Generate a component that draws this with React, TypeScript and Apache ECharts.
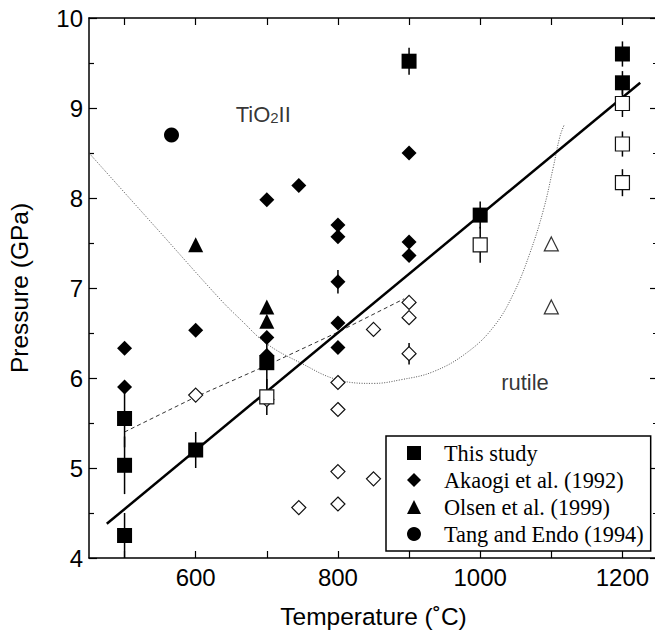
import React, { useEffect, useRef } from 'react';
import * as echarts from 'echarts';

// ---- axis ticks / labels ----
const xTickValues = [500, 600, 700, 800, 900, 1000, 1100, 1200];
const xLabelValues = [600, 800, 1000, 1200];

// ---- This study: [T, P, error] ----
const thisStudyTiO2II = [
  [500, 5.55, 0.32], [500, 5.03, 0.32], [500, 4.25, 0.25], [600, 5.2, 0.2],
  [700, 6.17, 0.3], [900, 9.52, 0.15], [1000, 7.81, 0.15], [1200, 9.6, 0.14], [1200, 9.28, 0.13],
];
const thisStudyRutile = [
  [700, 5.79, 0.2], [1000, 7.48, 0.2], [1200, 9.05, 0.15], [1200, 8.6, 0.14], [1200, 8.17, 0.15],
];

// ---- Akaogi et al. (1992) ----
const akaogiTiO2II = [
  [500, 6.33], [500, 5.9], [600, 6.53], [700, 7.98], [700, 6.45], [700, 6.25], [745, 8.14],
  [800, 7.7], [800, 7.57], [800, 7.07], [800, 6.61], [800, 6.34], [900, 8.5], [900, 7.51], [900, 7.36],
];
const akaogiRutile = [
  [600, 5.81], [700, 5.76], [745, 4.56], [800, 5.95], [800, 5.65], [800, 4.96], [800, 4.6],
  [850, 6.54], [850, 4.88], [900, 6.84], [900, 6.67], [900, 6.27],
];
const akaogiErrors = [[800, 7.07, 0.13], [900, 6.27, 0.12]];

// ---- Olsen et al. (1999) ----
const olsenTiO2II = [[600, 7.48], [700, 6.79], [700, 6.63]];
const olsenRutile = [[1100, 7.49], [1100, 6.79]];

// ---- Tang and Endo (1994) ----
const tangEndo = [[566, 8.7]];

// ---- lines ----
const fitLine = [[475, 4.38], [1225, 9.28]];
const dashedLine = [[500, 5.4], [600, 5.79], [700, 6.14], [800, 6.51], [893, 6.88]];
const dottedCurve = [
  [450, 8.5], [551, 7.61], [635, 6.87], [663, 6.65], [700, 6.38], [747, 6.17], [800, 5.98],
  [850, 5.94], [888, 5.98], [934, 6.07], [981, 6.28], [1019, 6.57], [1047, 6.94], [1070, 7.39],
  [1089, 7.87], [1103, 8.35], [1112, 8.68], [1118, 8.81],
];

// ---- annotations ----
const phaseLabels = [
  { name: 'TiO2II', value: [695, 8.93] },
  { name: 'rutile', value: [1063, 5.95] },
];

const SANS = '"Liberation Sans", Arial, Helvetica, sans-serif';
const SERIF = '"Liberation Serif", "Times New Roman", serif';

export default function App() {
  const ref = useRef<HTMLDivElement>(null);

  useEffect(() => {
    if (!ref.current) return;
    const chart = echarts.init(ref.current, undefined, { renderer: 'svg' });

    const xAxisBase = {
      type: 'value',
      min: 450,
      max: 1250,
      splitLine: { show: false },
      axisLine: { show: true, onZero: false, lineStyle: { color: '#000', width: 1.5 } },
      axisTick: { show: true, inside: true, length: 7, customValues: xTickValues, lineStyle: { color: '#000', width: 1.2 } },
    };
    const yAxisBase = {
      type: 'value',
      min: 4,
      max: 10,
      interval: 1,
      splitLine: { show: false },
      axisLine: { show: true, onZero: false, lineStyle: { color: '#000', width: 1.5 } },
      axisTick: { show: true, inside: true, length: 8, lineStyle: { color: '#000', width: 1.2 } },
      minorTick: { show: true, splitNumber: 2, length: 5, lineStyle: { color: '#000', width: 1.2 } },
      minorSplitLine: { show: false },
    };

    const errorBarSeries = (name: string, data: number[][]) => ({
      type: 'custom',
      name,
      data,
      encode: { x: 0, y: 1 },
      z: 3,
      silent: true,
      renderItem: (params: any, api: any) => {
        const x = api.value(0);
        const y = api.value(1);
        const e = api.value(2);
        const p1 = api.coord([x, y + e]);
        const p2 = api.coord([x, y - e]);
        return {
          type: 'line',
          shape: { x1: p1[0], y1: p1[1], x2: p2[0], y2: p2[1] },
          style: { stroke: '#000', lineWidth: 1.5 },
        };
      },
    });

    const filled = { color: '#000', opacity: 1 };
    const open = { color: '#fff', borderColor: '#111', borderWidth: 1.2, opacity: 1 };

    const option: any = {
      animation: false,
      grid: { left: 89, top: 18, right: -3, bottom: 77, containLabel: false, outerBoundsMode: 'none' },
      xAxis: [
        {
          ...xAxisBase,
          position: 'bottom',
          name: 'Temperature (˚C)',
          nameLocation: 'middle',
          nameGap: 46,
          nameTextStyle: { fontFamily: SANS, fontSize: 24.5, color: '#000' },
          axisLabel: {
            show: true, customValues: xLabelValues, margin: 7, fontFamily: SANS, fontSize: 24, color: '#000',
            formatter: (v: number) => String(v),
          },
        },
        {
          ...xAxisBase,
          position: 'top',
          axisLabel: { show: false },
        },
      ],
      yAxis: [
        {
          ...yAxisBase,
          position: 'left',
          name: 'Pressure (GPa)',
          nameLocation: 'middle',
          nameRotate: 90,
          nameGap: 57,
          nameTextStyle: { fontFamily: SANS, fontSize: 24.5, color: '#000' },
          axisLabel: { show: true, margin: 6, fontFamily: SANS, fontSize: 24, color: '#000' },
        },
        {
          ...yAxisBase,
          position: 'right',
          axisLabel: { show: false },
        },
      ],
      legend: {
        data: [
          { name: 'This study', icon: 'rect' },
          { name: 'Akaogi et al. (1992)', icon: 'diamond' },
          { name: 'Olsen et al. (1999)', icon: 'triangle' },
          { name: 'Tang and Endo (1994)', icon: 'circle' },
        ],
        orient: 'vertical',
        left: 386,
        top: 436,
        itemWidth: 14,
        itemHeight: 14,
        itemGap: 3,
        padding: [5, 7, 5, 21],
        borderColor: '#000',
        borderWidth: 1.5,
        borderRadius: 0,
        backgroundColor: '#fff',
        selectedMode: false,
        textStyle: { fontFamily: SERIF, fontSize: 22.3, color: '#000', lineHeight: 24, padding: [0, 0, 0, 18] },
      },
      series: [
        {
          type: 'line',
          name: 'phase boundary (dotted)',
          data: dottedCurve,
          smooth: 0.4,
          symbol: 'none',
          silent: true,
          z: 1,
          lineStyle: { color: '#555', width: 1, type: [1, 1.5] },
        },
        {
          type: 'line',
          name: 'phase boundary (dashed)',
          data: dashedLine,
          symbol: 'none',
          silent: true,
          z: 1,
          lineStyle: { color: '#333', width: 1, type: [4, 3] },
        },
        {
          type: 'line',
          name: 'fit',
          data: fitLine,
          symbol: 'none',
          silent: true,
          z: 2,
          lineStyle: { color: '#000', width: 2.5 },
        },
        errorBarSeries('This study error (TiO2II)', thisStudyTiO2II),
        errorBarSeries('This study error (rutile)', thisStudyRutile),
        errorBarSeries('Akaogi error', akaogiErrors),
        {
          type: 'scatter', name: 'Akaogi et al. (1992) rutile', data: akaogiRutile,
          symbol: 'diamond', symbolSize: 14, itemStyle: open, z: 4,
        },
        {
          type: 'scatter', name: 'Olsen et al. (1999) rutile', data: olsenRutile,
          symbol: 'triangle', symbolSize: 14, itemStyle: { ...open, borderColor: '#333' }, z: 4,
        },
        {
          type: 'scatter', name: 'This study rutile', data: thisStudyRutile,
          encode: { x: 0, y: 1 },
          symbol: 'rect', symbolSize: 14, itemStyle: open, z: 4,
        },
        {
          type: 'scatter', name: 'Akaogi et al. (1992)', data: akaogiTiO2II,
          symbol: 'diamond', symbolSize: 15, itemStyle: filled, z: 5,
        },
        {
          type: 'scatter', name: 'Olsen et al. (1999)', data: olsenTiO2II,
          symbol: 'triangle', symbolSize: 15, itemStyle: filled, z: 5,
        },
        {
          type: 'scatter', name: 'This study', data: thisStudyTiO2II,
          encode: { x: 0, y: 1 },
          symbol: 'rect', symbolSize: 15, itemStyle: filled, z: 5,
        },
        {
          type: 'scatter', name: 'Tang and Endo (1994)', data: tangEndo,
          symbol: 'circle', symbolSize: 15, itemStyle: filled, z: 5,
        },
        {
          type: 'scatter', name: 'phase labels', data: phaseLabels,
          symbolSize: 1, itemStyle: { color: 'rgba(0,0,0,0)' }, silent: true, z: 6,
          label: {
            show: true,
            position: 'inside',
            color: '#000',
            fontFamily: SANS,
            fontSize: 22,
            lineHeight: 22,
            formatter: (p: any) => (p.name === 'TiO2II' ? 'TiO{sub|2}II' : p.name),
            rich: {
              sub: { fontFamily: SANS, fontSize: 15, lineHeight: 10, verticalAlign: 'bottom', color: '#000' },
            },
          },
        },
      ],
    };

    chart.setOption(option);
    return () => chart.dispose();
  }, []);

  return (
    <div
      ref={ref}
      style={{ position: 'fixed', left: 0, top: 0, width: 655, height: 635, background: '#fff' }}
    />
  );
}
